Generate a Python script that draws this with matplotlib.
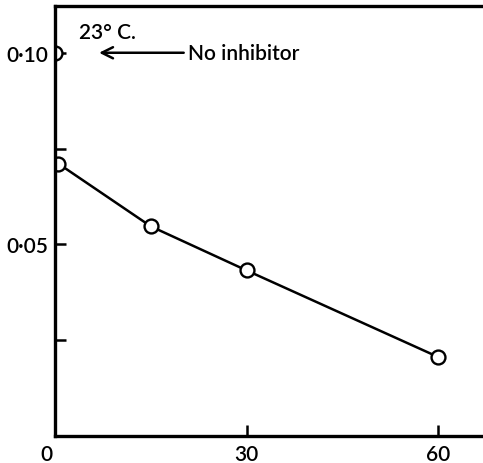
import numpy as np
import matplotlib.pyplot as plt
import matplotlib.transforms as mtransforms

plt.rcParams["font.family"] = ["Lato", "DejaVu Sans"]
plt.rcParams["font.weight"] = 600

# data
time_min = [0.5, 15, 30, 60]
rate = [0.0711, 0.0547, 0.0432, 0.0206]
ctrl_x = [0]
ctrl_y = [0.100]

x_ticks = [0, 30, 60]
x_labels = ["0", "30", "60"]
y_ticks = [0.025, 0.05, 0.075, 0.10]
y_labels = ["", "0\u00b705", "", "0\u00b710"]

fig = plt.figure(figsize=(4.83, 4.64), dpi=100)
ax = fig.add_axes([55 / 483, 27 / 464, 1 - 55 / 483, (437 - 7) / 464])

ax.plot(time_min, rate, "-", color="black", lw=1.8, zorder=3)
ax.plot(time_min, rate, "o", ms=10, mfc="white", mec="black", mew=1.7, zorder=4)
ax.plot(ctrl_x, ctrl_y, "o", ms=10, mfc="white", mec="black", mew=1.7, zorder=2)

ax.set_xlim(0, 67)
ax.set_ylim(0, 0.1122)
ax.set_xticks(x_ticks)
ax.set_xticklabels(x_labels)
ax.set_yticks(y_ticks)
ax.set_yticklabels(y_labels)
ax.tick_params(direction="in", length=8, width=1.8, labelsize=15, pad=6)
ax.tick_params(axis="y", pad=5)
ax.tick_params(axis="x", pad=6)
ax.xaxis.get_major_ticks()[0].tick1line.set_visible(False)
# the "0" sits a little left of the corner
lab0 = ax.get_xticklabels()[0]
lab0.set_transform(lab0.get_transform() + mtransforms.ScaledTranslation(-9 / 100, 0, fig.dpi_scale_trans))

for s in ["left", "bottom", "top"]:
    ax.spines[s].set_linewidth(2.4)
    ax.spines[s].set_zorder(5)
ax.spines["right"].set_visible(False)

ax.text(3.7, 0.1055, "23\u00b0 C.", fontsize=15, ha="left", va="center")
ax.annotate("No inhibitor", xy=(6.9, 0.100), xytext=(20.8, 0.100),
            fontsize=15, ha="left", va="center",
            arrowprops=dict(arrowstyle="->", color="black", lw=1.8,
                            mutation_scale=20, shrinkA=1, shrinkB=0))

fig.savefig("out.png", dpi=100)
